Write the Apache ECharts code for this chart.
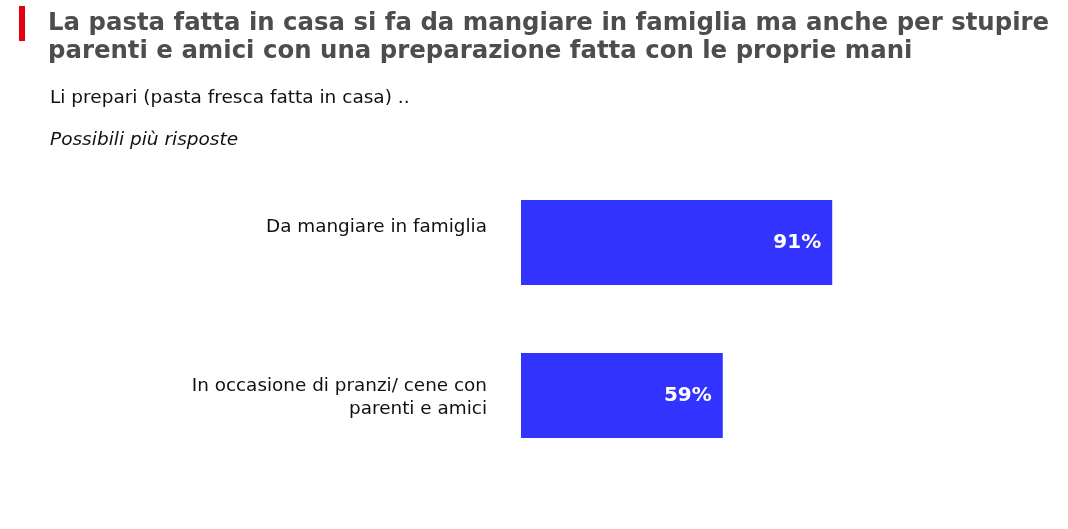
<!DOCTYPE html>
<html>
<head>
<meta charset="utf-8">
<script src="https://cdn.jsdelivr.net/npm/echarts@6/dist/echarts.min.js"></script>
<style>
html,body{margin:0;padding:0;background:#fff;}
#c{width:1068px;height:529px;}
</style>
</head>
<body>
<div id="c"></div>
<script>
const titleLines = [
  'La pasta fatta in casa si fa da mangiare in famiglia ma anche per stupire',
  'parenti e amici con una preparazione fatta con le proprie mani'
];
const subtitle = 'Li prepari (pasta fresca fatta in casa) ..';
const note = 'Possibili più risposte';
const categories = ['Da mangiare in famiglia', 'In occasione di pranzi/ cene con\nparenti e amici'];
const values = [91, 59];

const chart = echarts.init(document.getElementById('c'));
const FONT = '"DejaVu Sans", Verdana, sans-serif';
chart.setOption({
  animation: false,
  backgroundColor: '#ffffff',
  graphic: [
    {type: 'rect', shape: {x: 19, y: 6, width: 6, height: 35}, style: {fill: '#e3000f'}},
    {type: 'text', left: 48, top: 10, style: {text: titleLines.join('\n'), font: 'bold 24.4px ' + FONT, fill: '#4d4d4d', lineHeight: 28}},
    {type: 'text', left: 50, top: 89, style: {text: subtitle, font: '18.5px ' + FONT, fill: '#111111'}},
    {type: 'text', left: 50, top: 131, style: {text: note, font: 'italic 18.5px ' + FONT, fill: '#111111'}}
  ],
  grid: {left: 521, top: 166, width: 342, height: 306, containLabel: false},
  xAxis: {type: 'value', min: 0, max: 100, show: false},
  yAxis: {
    type: 'category', data: categories, inverse: true,
    axisLine: {show: false}, axisTick: {show: false},
    axisLabel: {
      margin: 34, fontFamily: FONT, fontSize: 18.4, color: '#111111', lineHeight: 23, align: 'right',
      formatter: function (v) { return v.indexOf('\n') < 0 ? '{up|' + v + '}' : '{dn|' + v + '}'; },
      rich: {
        up: {fontFamily: FONT, fontSize: 18.4, color: '#111111', lineHeight: 23, padding: [0, 0, 30, 0]},
        dn: {fontFamily: FONT, fontSize: 18.4, color: '#111111', lineHeight: 23, padding: [5, 0, 0, 0]}
      }
    }
  },
  series: [{
    type: 'bar', data: values, barWidth: 85,
    itemStyle: {color: '#3333ff'},
    label: {show: true, position: 'insideRight', distance: 11, formatter: '{c}%', color: '#ffffff', fontFamily: FONT, fontWeight: 'bold', fontSize: 20}
  }]
});
</script>
</body>
</html>
